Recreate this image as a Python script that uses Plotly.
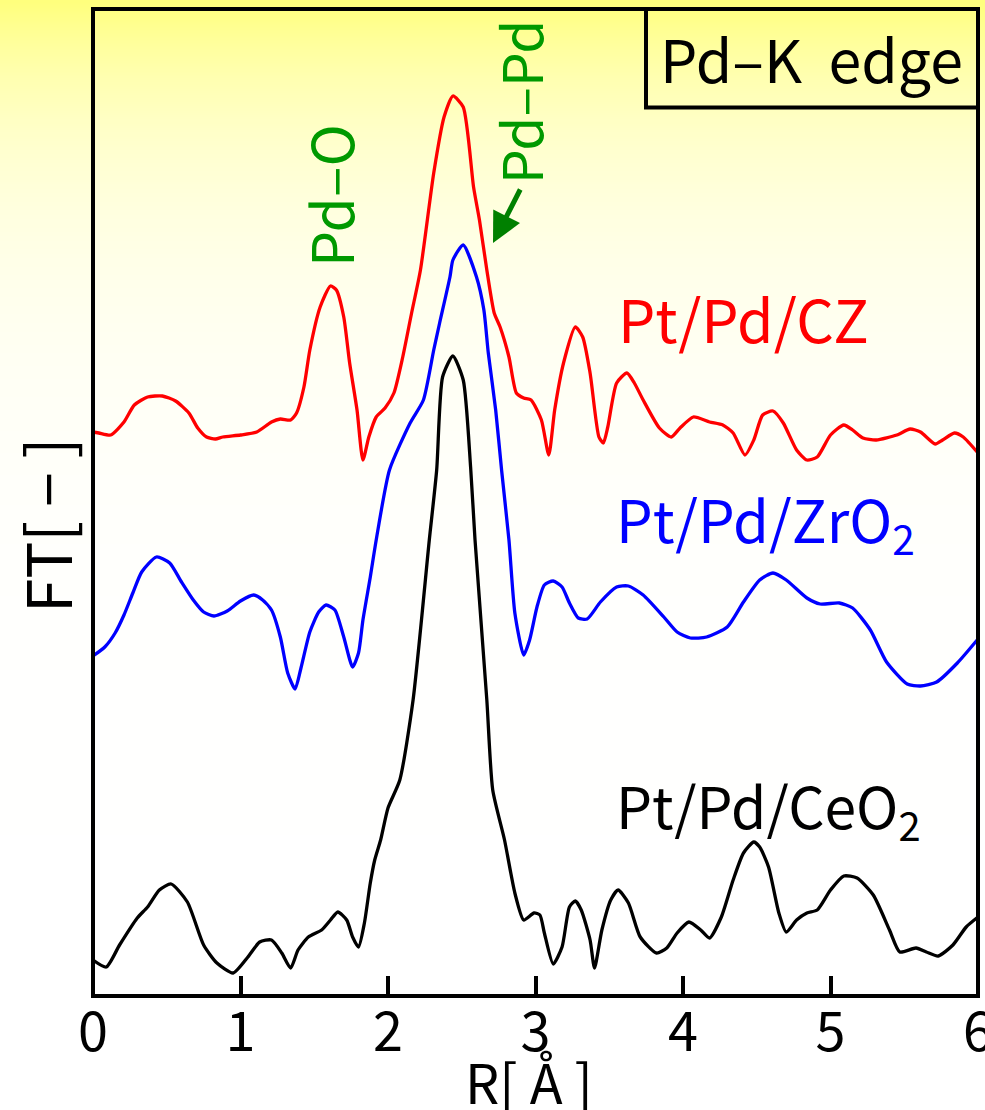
import base64, struct, zlib, math
import plotly.graph_objects as go

# ---------------- data (R in Å, FT in arbitrary units, offset per series) -------------
r_cz = [0.00, 0.04, 0.12, 0.21, 0.28, 0.37, 0.47, 0.56, 0.65, 0.71, 0.77, 0.83, 0.88, 1.00,
        1.11, 1.21, 1.27, 1.34, 1.38, 1.43, 1.47, 1.54, 1.61, 1.65, 1.70, 1.74, 1.79, 1.83,
        1.87, 1.92, 1.98, 2.04, 2.10, 2.16, 2.22, 2.31, 2.38, 2.44, 2.51, 2.58, 2.62, 2.67,
        2.72, 2.76, 2.82, 2.87, 2.92, 2.97, 3.04, 3.09, 3.13, 3.19, 3.27, 3.32, 3.37, 3.43,
        3.46, 3.49, 3.55, 3.62, 3.67, 3.73, 3.84, 3.92, 3.98, 4.07, 4.18, 4.27, 4.34, 4.42,
        4.48, 4.54, 4.61, 4.68, 4.77, 4.84, 4.91, 5.00, 5.09, 5.15, 5.22, 5.31, 5.45, 5.54,
        5.61, 5.71, 5.76, 5.84, 5.90, 6.00]
ft_cz = [5.64, 5.63, 5.61, 5.74, 5.91, 5.99, 6.00, 5.95, 5.83, 5.68, 5.59, 5.57, 5.59, 5.61,
         5.64, 5.74, 5.77, 5.76, 5.83, 6.09, 6.46, 6.89, 7.10, 7.06, 6.79, 6.33, 5.86, 5.36,
         5.59, 5.79, 5.88, 6.03, 6.39, 6.83, 7.26, 8.23, 8.79, 9.00, 8.89, 8.09, 7.76, 7.26,
         6.83, 6.69, 6.39, 6.03, 5.98, 5.96, 5.76, 5.41, 5.86, 6.33, 6.69, 6.59, 6.23, 5.59,
         5.53, 5.69, 6.13, 6.23, 6.13, 5.96, 5.68, 5.59, 5.68, 5.79, 5.74, 5.71, 5.63, 5.41,
         5.56, 5.81, 5.85, 5.73, 5.46, 5.36, 5.39, 5.61, 5.71, 5.66, 5.58, 5.56, 5.61, 5.67,
         5.64, 5.52, 5.56, 5.63, 5.59, 5.43]

r_zr = [0.00, 0.08, 0.15, 0.21, 0.27, 0.33, 0.43, 0.52, 0.60, 0.68, 0.75, 0.82, 0.91, 1.00,
        1.09, 1.15, 1.21, 1.27, 1.32, 1.37, 1.41, 1.47, 1.53, 1.58, 1.64, 1.70, 1.76, 1.80,
        1.83, 1.88, 1.92, 2.01, 2.15, 2.24, 2.31, 2.35, 2.42, 2.44, 2.51, 2.60, 2.65, 2.68,
        2.73, 2.77, 2.82, 2.86, 2.92, 2.96, 3.01, 3.06, 3.12, 3.18, 3.23, 3.29, 3.35, 3.44,
        3.55, 3.63, 3.73, 3.87, 3.96, 4.05, 4.16, 4.30, 4.41, 4.52, 4.61, 4.70, 4.84, 4.93,
        5.06, 5.15, 5.27, 5.38, 5.52, 5.61, 5.72, 5.86, 6.00]
ft_zr = [3.40, 3.49, 3.63, 3.81, 4.03, 4.24, 4.39, 4.33, 4.14, 3.96, 3.84, 3.80, 3.85, 3.95,
         4.01, 3.96, 3.86, 3.59, 3.23, 3.07, 3.28, 3.64, 3.84, 3.91, 3.86, 3.59, 3.29, 3.43,
         3.76, 4.19, 4.56, 5.26, 5.73, 5.96, 6.46, 6.73, 7.19, 7.36, 7.51, 7.19, 6.86, 6.43,
         5.86, 5.26, 4.56, 3.83, 3.41, 3.56, 3.89, 4.11, 4.15, 4.09, 3.93, 3.78, 3.77, 3.94,
         4.09, 4.10, 4.01, 3.79, 3.64, 3.58, 3.59, 3.69, 3.94, 4.16, 4.23, 4.16, 3.98, 3.92,
         3.93, 3.88, 3.66, 3.34, 3.12, 3.10, 3.14, 3.33, 3.57]

r_ce = [0.00, 0.09, 0.18, 0.30, 0.37, 0.45, 0.53, 0.64, 0.75, 0.84, 0.95, 1.05, 1.13, 1.21,
        1.28, 1.34, 1.39, 1.46, 1.55, 1.61, 1.66, 1.72, 1.76, 1.80, 1.84, 1.88, 1.91, 1.95,
        2.00, 2.08, 2.17, 2.28, 2.33, 2.37, 2.44, 2.51, 2.56, 2.59, 2.67, 2.71, 2.79, 2.86,
        2.92, 2.99, 3.03, 3.06, 3.12, 3.18, 3.23, 3.27, 3.31, 3.37, 3.40, 3.45, 3.51, 3.56,
        3.63, 3.71, 3.82, 3.89, 3.96, 4.04, 4.12, 4.18, 4.26, 4.34, 4.41, 4.48, 4.52, 4.58,
        4.65, 4.70, 4.77, 4.84, 4.91, 5.00, 5.09, 5.18, 5.29, 5.40, 5.47, 5.58, 5.65, 5.73,
        5.83, 5.92, 6.00]
ft_ce = [0.36, 0.29, 0.51, 0.78, 0.89, 1.06, 1.12, 0.94, 0.51, 0.33, 0.23, 0.39, 0.54, 0.56,
         0.43, 0.28, 0.46, 0.59, 0.66, 0.76, 0.84, 0.76, 0.59, 0.49, 0.73, 1.13, 1.36, 1.56,
         1.88, 2.16, 2.96, 4.56, 5.26, 6.19, 6.40, 6.16, 5.29, 4.56, 2.96, 2.06, 1.56, 1.03,
         0.76, 0.83, 0.81, 0.63, 0.32, 0.49, 0.89, 0.95, 0.86, 0.56, 0.28, 0.66, 0.96, 1.06,
         0.93, 0.59, 0.43, 0.48, 0.63, 0.74, 0.66, 0.58, 0.79, 1.16, 1.43, 1.54, 1.49, 1.29,
         0.83, 0.64, 0.76, 0.83, 0.86, 1.06, 1.20, 1.18, 1.01, 0.66, 0.44, 0.48, 0.44, 0.40,
         0.51, 0.69, 0.79]

x_ticks = [0, 1, 2, 3, 4, 5, 6]
series_names = ["Pt/Pd/CZ", "Pt/Pd/ZrO<sub>2</sub>", "Pt/Pd/CeO<sub>2</sub>"]
series_colors = ["#ff0000", "#0000ff", "#000000"]

# ---------------- layout geometry (pixels) ----------------
W, H = 985, 1110
L, R_, T, B = 93, 7, 9, 114
PW, PH = W - L - R_, H - T - B


def fx(px):
    return (px - L) / PW


def fy(py):
    return (H - B - py) / PH


# ---------------- background gradient as a tiny PNG ----------------
def gradient_png(n=256):
    rows = b""
    for i in range(n):
        y = i / (n - 1) * H
        b = int(round(255 - 130 * math.exp(-y / 150.0)))
        rows += b"\x00" + bytes([255, 255, b])
    def chunk(tag, data):
        c = struct.pack(">I", len(data)) + tag + data
        return c + struct.pack(">I", zlib.crc32(tag + data) & 0xffffffff)
    png = b"\x89PNG\r\n\x1a\n"
    png += chunk(b"IHDR", struct.pack(">IIBBBBB", 1, n, 8, 2, 0, 0, 0))
    png += chunk(b"IDAT", zlib.compress(rows))
    png += chunk(b"IEND", b"")
    return "data:image/png;base64," + base64.b64encode(png).decode()


FONT = "Noto Sans CJK JP"

fig = go.Figure()
for r, ft, name, col in zip([r_cz, r_zr, r_ce], [ft_cz, ft_zr, ft_ce], series_names, series_colors):
    fig.add_trace(go.Scatter(x=r, y=ft, mode="lines", name=name,
                             line=dict(color=col, width=3.3, shape="spline", smoothing=0.6),
                             showlegend=False, hoverinfo="skip"))

fig.update_layout(
    width=W, height=H,
    margin=dict(l=L, r=R_, t=T, b=B, autoexpand=False),
    paper_bgcolor="white", plot_bgcolor="rgba(0,0,0,0)",
    font=dict(family=FONT, color="black"),
    xaxis=dict(range=[0, 6], tickvals=x_ticks, ticktext=[str(v) for v in x_ticks],
               ticks="inside", ticklen=20, tickwidth=4, tickcolor="black",
               showgrid=False, zeroline=False, showline=False,
               ticklabeloverflow="allow", automargin=False,
               tickfont=dict(family=FONT, size=54, color="black")),
    yaxis=dict(range=[0, 9.87], showticklabels=False, ticks="", showgrid=False,
               zeroline=False, showline=False, automargin=False),
    images=[dict(source=gradient_png(), xref="paper", yref="paper",
                 x=fx(0), y=fy(0), sizex=fx(W) - fx(0), sizey=fy(0) - fy(H),
                 xanchor="left", yanchor="top", sizing="stretch", layer="below")],
    shapes=[
        dict(type="rect", xref="paper", yref="paper", x0=0, x1=1, y0=0, y1=1,
             line=dict(color="black", width=4), layer="above"),
        dict(type="rect", xref="paper", yref="paper", x0=fx(646), x1=1, y0=fy(107.5), y1=1,
             line=dict(color="black", width=4), layer="above"),
    ],
)

ann = [
    dict(text="Pd–K\u00a0 edge", x=fx(811), y=fy(57), size=59, color="black", angle=0),
    dict(text=series_names[0], x=fx(616), y=fy(317), size=59, color=series_colors[0], angle=0, left=True),
    dict(text=series_names[1], x=fx(614), y=fy(521), size=58, color=series_colors[1], angle=0, left=True),
    dict(text=series_names[2], x=fx(614), y=fy(807), size=57, color=series_colors[2], angle=0, left=True),
    dict(text="Pd–O", x=fx(329), y=fy(196), size=57, color="#009900", angle=-90),
    dict(text="Pd–Pd", x=fx(519), y=fy(102), size=55, color="#009900", angle=-90),
    dict(text="FT[ − ]", x=fx(45), y=fy(526), size=62, color="black", angle=-90),
    dict(text="R[ Å ]", x=fx(529), y=fy(1080), size=54, color="black", angle=0),
]
for a in ann:
    fig.add_annotation(text=a["text"], xref="paper", yref="paper", x=a["x"], y=a["y"],
                       xanchor="left" if a.get("left") else "center", yanchor="middle",
                       textangle=a["angle"], showarrow=False,
                       font=dict(family=FONT, size=a["size"], color=a["color"]))

# arrow pointing to the Pd-Pd shoulder
fig.add_annotation(text="", xref="paper", yref="paper", x=fx(493), y=fy(243),
                   ax=28, ay=-55, showarrow=True, arrowhead=2, arrowsize=1.2,
                   arrowwidth=5, arrowcolor="#008000")

fig.write_html("out.html")
